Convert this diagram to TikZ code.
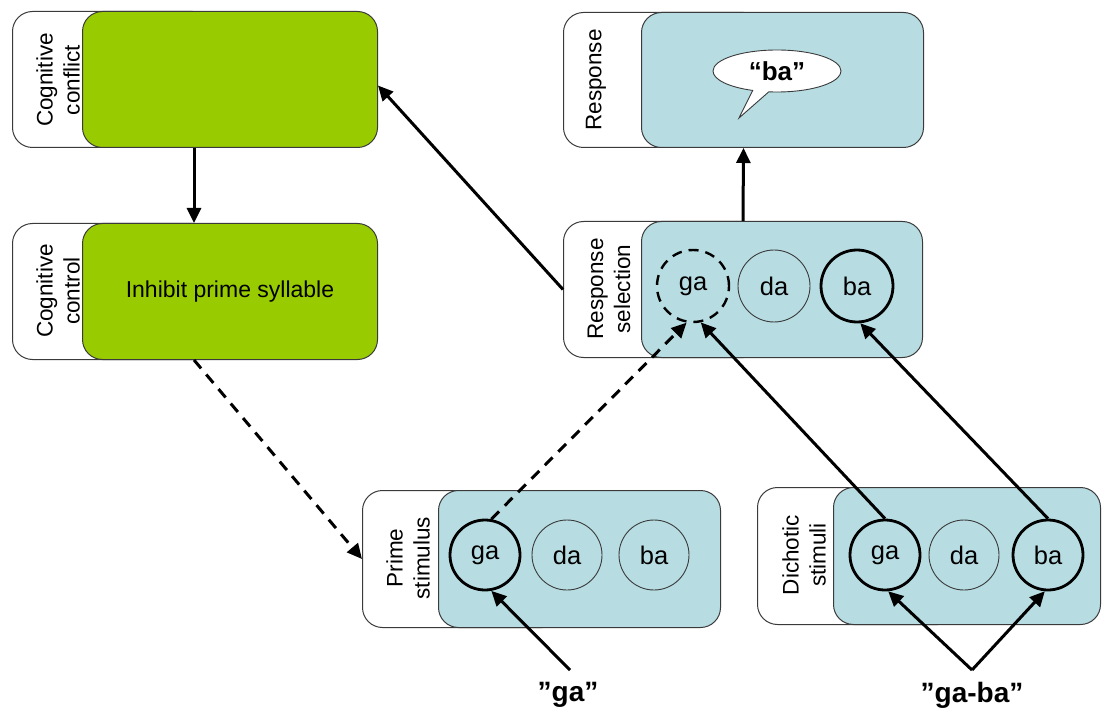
\documentclass[tikz,border=0pt]{standalone}
\usepackage{fontspec}
\setmainfont{Liberation Sans}
\usetikzlibrary{arrows.meta,shapes.callouts,calc}
\definecolor{cgreen}{HTML}{99CC00}
\definecolor{cblue}{HTML}{B7DDE3}
\definecolor{cedge}{HTML}{3A3A3A}
\begin{document}
\begin{tikzpicture}[x=1pt,y=-1pt,
  outerbox/.style={draw=cedge, line width=1pt, fill=white, rounded corners=20pt, anchor=north west, inner sep=0pt, minimum width=200pt},
  greenbox/.style={outerbox, fill=cgreen},
  bluebox/.style={outerbox, fill=cblue},
  lab/.style={rotate=90, align=center, font=\fontsize{22.5}{27}\selectfont},
  syl/.style={circle, draw=cedge, line width=0.9pt, minimum size=72pt, inner sep=0pt, font=\fontsize{25.5}{27}\selectfont},
  strong/.style={syl, draw=black, line width=2.8pt},
  weak/.style={syl, draw=black, line width=2.4pt, dash pattern=on 10pt off 7pt},
  conn/.style={line width=3pt, -{Triangle[length=15pt,width=14pt]}},
  dconn/.style={conn, dash pattern=on 11pt off 8pt},
  quotelab/.style={font=\bfseries\fontsize{28}{30}\selectfont}]
\useasboundingbox (0,0) rectangle (1108,711);
% Cognitive conflict
\node[outerbox, minimum height=136pt] (confO) at (12,11) {};
\node[greenbox, minimum width=295pt, minimum height=136pt] (conf) at (82,11) {};
\node[lab] (confL) at (58,80) {Cognitive\\conflict};
% Cognitive control
\node[outerbox, minimum height=136pt] (ctrlO) at (12,223) {};
\node[greenbox, minimum width=295pt, minimum height=136pt] (ctrl) at (82,223) {};
\node[font=\fontsize{23}{26}\selectfont] (ctrlT) at (230,292) {Inhibit prime syllable};
\node[lab] (ctrlL) at (58,291) {Cognitive\\control};
% Response
\node[outerbox, minimum height=135pt] (respO) at (563,12) {};
\node[bluebox, minimum width=282pt, minimum height=135pt] (resp) at (641,12) {};
\node[lab] (respL) at (596,80) {Response};
\node[ellipse callout, draw=cedge, line width=0.9pt, fill=white, minimum width=128pt, minimum height=42pt, inner sep=0pt,
      callout absolute pointer={(739,118)}, font=\bfseries\fontsize{26}{28}\selectfont] (bubble) at (777,71) {“ba”};
% Response selection
\node[outerbox, minimum height=136pt] (rselO) at (563,221) {};
\node[bluebox, minimum width=281pt, minimum height=136pt] (rsel) at (641,221) {};
\node[lab] (rselL) at (609,289) {Response\\selection};
\node[weak] (rga) at (693,286) {ga};
\node[syl] (rda) at (774,286) {da};
\node[strong] (rba) at (857,286) {ba};
% Prime stimulus
\node[outerbox, minimum height=137pt] (primO) at (362,490) {};
\node[bluebox, minimum width=282pt, minimum height=137pt] (prim) at (438,490) {};
\node[lab] (primL) at (408,558) {Prime\\stimulus};
\node[strong, minimum size=70pt] (pga) at (485,555) {ga};
\node[syl, minimum size=70pt] (pda) at (567,555) {da};
\node[syl, minimum size=70pt] (pba) at (654,555) {ba};
% Dichotic stimuli
\node[outerbox, minimum height=137pt] (dichO) at (757,487) {};
\node[bluebox, minimum width=267pt, minimum height=137pt] (dich) at (833,487) {};
\node[lab] (dichL) at (804,555) {Dichotic\\stimuli};
\node[strong, minimum size=70pt] (dga) at (885,555) {ga};
\node[syl, minimum size=70pt] (dda) at (964,555) {da};
\node[strong, minimum size=70pt] (dba) at (1048,555) {ba};
% input labels
\node[quotelab] (lga) at (568,695) {”ga”};
\node[quotelab] (lgb) at (972,695) {”ga-ba”};
\coordinate (gaSrc) at (570,670);
\coordinate (gbSrc) at (972,670);
% connectors
\draw[conn] ([xshift=-36pt]conf.south) -- ([xshift=-36pt]ctrl.north);
\draw[conn] (rselO.west) -- ([yshift=-6pt]conf.east);
\draw[conn] ([xshift=-39pt]rsel.north) -- ([xshift=-39pt]resp.south);
\draw[dconn] ([xshift=-36pt]ctrl.south) -- (primO.west);
\draw[dconn] (pga.80) -- (rga.-100);
\draw[conn] (dga.north) -- (rga.-78);
\draw[conn] (dba.north) -- (rba.-85);
\draw[conn] (gaSrc) -- (pga.-80);
\draw[conn] (gbSrc) -- (dga.-85);
\draw[conn] (gbSrc) -- (dba.-95);
\end{tikzpicture}
\end{document}
